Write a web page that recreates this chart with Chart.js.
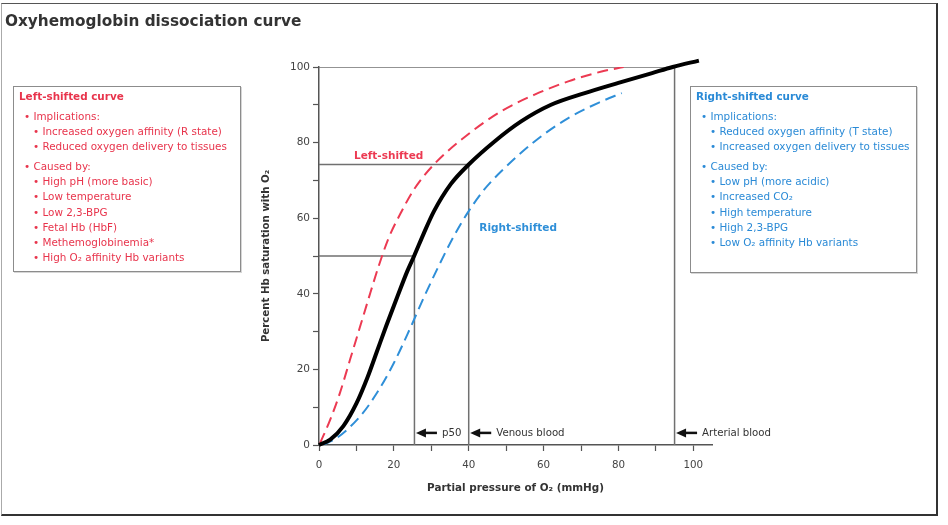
<!DOCTYPE html>
<html>
<head>
<meta charset="utf-8">
<script src="https://cdn.jsdelivr.net/npm/chart.js@4.4.1/dist/chart.umd.min.js"></script>
<style>
  html, body { margin: 0; padding: 0; background: #fff; }
  #wrap { position: relative; width: 948px; height: 525px; overflow: hidden; font-family: "DejaVu Sans", Verdana, sans-serif; }
  #chart { position: absolute; left: 0; top: 0; }
  .frame { position: absolute; left: 1px; top: 3px; width: 937px; height: 513px; box-sizing: border-box;
           border-top: 1.5px solid #555; border-left: 1px solid #aaa; border-right: 2px solid #333; border-bottom: 2px solid #333; }
  .title { position: absolute; left: 5px; top: 11px; font-size: 15.3px; line-height: 20px; font-weight: bold; color: #333; white-space: nowrap; }
  .box { position: absolute; box-sizing: border-box; border: 1px solid #8c8c8c; box-shadow: 1px 1px 0 #d6d6d6;
         font-size: 10.4px; line-height: 15.2px; padding-top: 2px; white-space: nowrap; background: #fff; }
  .box .hd { font-weight: bold; padding-left: 5px; }
  .box .l1 { padding-left: 10px; }
  .box .l2 { padding-left: 19px; }
  .box .gap { margin-top: 4.6px; }
  .red { color: #e8344c; }
  .blue { color: #2a8ad6; }
</style>
</head>
<body>
<div id="wrap">
  <canvas id="chart" width="948" height="525"></canvas>
  <div class="frame"></div>
  <div class="title">Oxyhemoglobin dissociation curve</div>
  <div class="box red" style="left:13px; top:86px; width:228px; height:186px;">
    <div class="hd">Left-shifted curve</div>
    <div class="l1 gap">• Implications:</div>
    <div class="l2">• Increased oxygen affinity (R state)</div>
    <div class="l2">• Reduced oxygen delivery to tissues</div>
    <div class="l1 gap">• Caused by:</div>
    <div class="l2">• High pH (more basic)</div>
    <div class="l2">• Low temperature</div>
    <div class="l2">• Low 2,3-BPG</div>
    <div class="l2">• Fetal Hb (HbF)</div>
    <div class="l2">• Methemoglobinemia*</div>
    <div class="l2">• High O₂ affinity Hb variants</div>
  </div>
  <div class="box blue" style="left:690px; top:86px; width:227px; height:187px;">
    <div class="hd">Right-shifted curve</div>
    <div class="l1 gap">• Implications:</div>
    <div class="l2">• Reduced oxygen affinity (T state)</div>
    <div class="l2">• Increased oxygen delivery to tissues</div>
    <div class="l1 gap">• Caused by:</div>
    <div class="l2">• Low pH (more acidic)</div>
    <div class="l2">• Increased CO₂</div>
    <div class="l2">• High temperature</div>
    <div class="l2">• High 2,3-BPG</div>
    <div class="l2">• Low O₂ affinity Hb variants</div>
  </div>
</div>
<script>
// normal curve (black)
const pO2Normal = [0, 3, 6.5, 10, 13, 15.5, 18, 21, 23.6, 25.5, 28, 30.7, 35.2, 40, 46.9, 54, 62, 71, 80, 89, 94.5, 101.5];
const satNormal = [0, 1.4, 5, 11, 18, 24.8, 31.6, 39.4, 46, 50.2, 56, 61.8, 69, 74.2, 80.3, 85.6, 90, 93.1, 95.8, 98.4, 100, 101.7];

// left-shifted (red dashed)
const pO2Left = [0.3, 3, 5.6, 8.3, 11, 13.7, 15.9, 18.5, 21.8, 25.5, 30.7, 39.7, 48.7, 57.6, 66.6, 75.5, 81.4];
const satLeft = [0.5, 6.7, 13.8, 22.6, 31.4, 40.2, 47.2, 54.5, 61.3, 67.8, 74.2, 82.1, 88.3, 92.7, 96.2, 98.8, 100];

// right-shifted (blue dashed)
const pO2Right = [1, 4.8, 11, 15.5, 20, 24.5, 28, 32, 36, 39.7, 44, 48.7, 57.6, 66.6, 75.5, 80.9];
const satRight = [0, 1.9, 7.6, 13.8, 21.7, 31.2, 39, 47.4, 55.2, 61.4, 67.4, 72.4, 80.3, 86.5, 90.9, 93.1];

// reference points: p50, venous, arterial
const refX = [25.5, 40, 95];
const refY = [50, 74.2, 100];
const refLabels = ['p50', 'Venous blood', 'Arterial blood'];

const xTicks = [0, 10, 20, 30, 40, 50, 60, 70, 80, 90, 100];
const yTicks = [0, 10, 20, 30, 40, 50, 60, 70, 80, 90, 100];

const RED = '#ec3a52', BLUE = '#2f8fd8', FONT = "'DejaVu Sans', Verdana, sans-serif";

const toPts = (xs, ys) => xs.map((x, i) => ({ x, y: ys[i] }));

const curveDatasets = [
  { data: toPts(pO2Normal, satNormal), borderColor: '#000', borderWidth: 4, clip: false },
  { data: toPts(pO2Left, satLeft), borderColor: RED, borderWidth: 2, borderDash: [11, 6] },
  { data: toPts(pO2Right, satRight), borderColor: BLUE, borderWidth: 2, borderDash: [11, 6] },
].map(d => ({ ...d, pointRadius: 0, cubicInterpolationMode: 'monotone', fill: false }));

// drop lines from each reference point to both axes
const refDatasets = refX.map((x, i) => ({
  data: [{ x: 0, y: refY[i] }, { x, y: refY[i] }, { x, y: 0 }],
  borderColor: '#707070', borderWidth: 1.5, pointRadius: 0, tension: 0, fill: false,
}));

// arrows + labels at the foot of each drop line, plus curve names
const annotations = {
  id: 'annotations',
  afterDatasetsDraw(chart) {
    const { ctx, scales: { x, y } } = chart;
    ctx.save();
    const ay = y.getPixelForValue(3.2);
    refX.forEach((v, i) => {
      const px = x.getPixelForValue(v) + 1.5;
      ctx.fillStyle = '#111';
      ctx.strokeStyle = '#111';
      ctx.lineWidth = 2.5;
      ctx.beginPath(); ctx.moveTo(px + 8, ay); ctx.lineTo(px + 21, ay); ctx.stroke();
      ctx.beginPath(); ctx.moveTo(px, ay); ctx.lineTo(px + 10, ay - 4.5); ctx.lineTo(px + 10, ay + 4.5); ctx.closePath(); ctx.fill();
      ctx.fillStyle = '#333';
      ctx.font = `10.2px ${FONT}`;
      ctx.textBaseline = 'middle';
      ctx.textAlign = 'left';
      ctx.fillText(refLabels[i], px + 26, ay);
    });
    ctx.font = `bold 10.5px ${FONT}`;
    ctx.textAlign = 'center';
    ctx.textBaseline = 'middle';
    ctx.fillStyle = RED;
    ctx.fillText('Left-shifted', x.getPixelForValue(18.6), y.getPixelForValue(76.3));
    ctx.fillStyle = BLUE;
    ctx.fillText('Right-shifted', x.getPixelForValue(53.2), y.getPixelForValue(57.3));
    ctx.restore();
  }
};

new Chart(document.getElementById('chart'), {
  type: 'line',
  data: { datasets: [...curveDatasets, ...refDatasets] },
  plugins: [annotations],
  options: {
    responsive: false,
    animation: false,
    layout: { padding: { left: 259, right: 236, top: 67, bottom: 30 } },
    plugins: { legend: { display: false }, tooltip: { enabled: false } },
    scales: {
      x: {
        type: 'linear', min: 0, max: 105,
        afterBuildTicks: s => { s.ticks = xTicks.map(value => ({ value })); },
        afterFit: s => { s.height = 50; },
        border: { color: '#555', width: 1.5 },
        grid: { drawOnChartArea: false, tickLength: 6, tickColor: '#555', tickWidth: 1.2 },
        ticks: { padding: 8, color: '#444', font: { family: FONT, size: 10.3 }, maxRotation: 0,
                 callback: v => (v % 20 === 0 ? v : '') },
        title: { display: true, text: 'Partial pressure of O₂ (mmHg)', color: '#333',
                 font: { family: FONT, size: 10.4, weight: 'bold' }, padding: { top: 0, bottom: 0 } },
      },
      y: {
        type: 'linear', min: 0, max: 100,
        afterBuildTicks: s => { s.ticks = yTicks.map(value => ({ value })); },
        afterFit: s => { s.width = 60; },
        border: { color: '#555', width: 1.5 },
        grid: { drawOnChartArea: false, tickLength: 6, tickColor: '#555', tickWidth: 1.2 },
        ticks: { padding: 3, color: '#444', font: { family: FONT, size: 10.5 },
                 callback: v => (v % 20 === 0 ? v : '') },
        title: { display: true, text: 'Percent Hb saturation with O₂', color: '#333',
                 font: { family: FONT, size: 10.2, weight: 'bold' }, padding: { top: 1, bottom: 0 } },
      }
    }
  }
});
</script>
</body>
</html>
